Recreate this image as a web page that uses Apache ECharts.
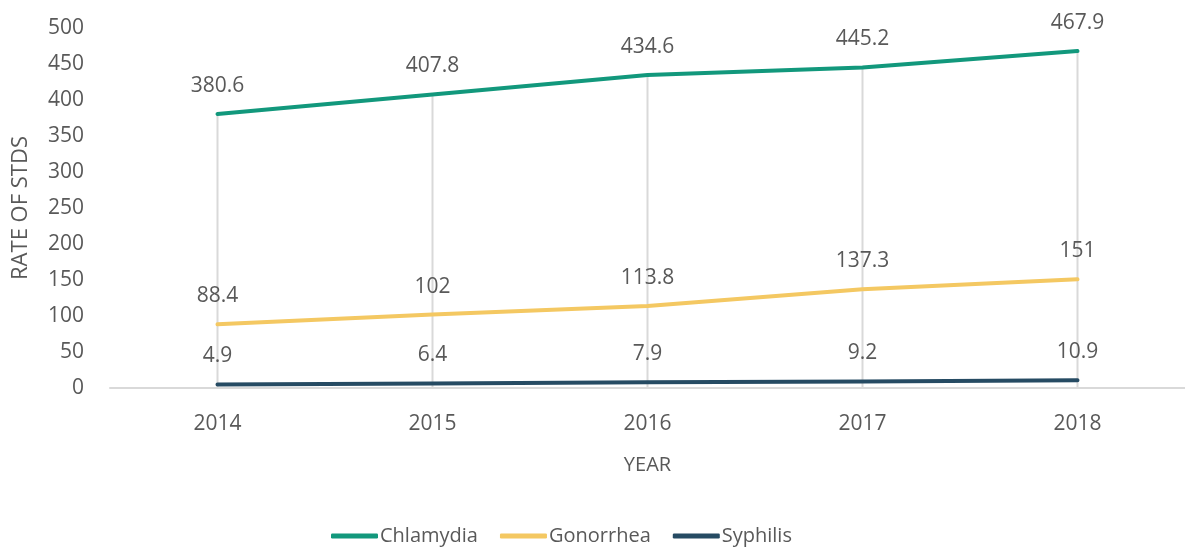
<!DOCTYPE html>
<html><head><meta charset="utf-8">
<script src="https://cdn.jsdelivr.net/npm/echarts@6/dist/echarts.min.js"></script>
<style>html,body{margin:0;padding:0;background:#fff}#c{width:1185px;height:550px}</style>
</head><body><div id="c"></div>
<script>
const years = ['2014','2015','2016','2017','2018'];
const chlamydia = [380.6, 407.8, 434.6, 445.2, 467.9];
const gonorrhea = [88.4, 102, 113.8, 137.3, 151];
const syphilis = [4.9, 6.4, 7.9, 9.2, 10.9];
const yTicks = [0, 50, 100, 150, 200, 250, 300, 350, 400, 450, 500];

const FONT = '"Open Sans", "Noto Sans", sans-serif';
const TXT = '#595959';
function lineSeries(name, data, color) {
  return {
    name, type: 'line', data, symbol: 'circle', symbolSize: 1, showSymbol: true, z: 5,
    lineStyle: { color, width: 4, cap: 'round' },
    itemStyle: { color: 'rgba(0,0,0,0)', borderWidth: 0 },
    label: { show: true, position: 'top', distance: 17, color: TXT, fontSize: 21, fontFamily: FONT },
  };
}
const chart = echarts.init(document.getElementById('c'));
chart.setOption({
  animation: false,
  grid: { left: 110, right: -8, top: 28, bottom: 162 },
  legend: {
    data: [
      { name: 'Chlamydia', itemStyle: { color: '#12987c' } },
      { name: 'Gonorrhea', itemStyle: { color: '#f4c862' } },
      { name: 'Syphilis', itemStyle: { color: '#264b63' } },
    ],
    icon: 'roundRect',
    top: 521, left: 326, itemWidth: 47, itemHeight: 5, itemGap: 22,
    textStyle: { color: TXT, fontSize: 20, fontFamily: FONT, padding: [0, 0, 0, -3] },
  },
  xAxis: {
    type: 'category', data: years, boundaryGap: true,
    name: 'YEAR', nameLocation: 'middle', nameGap: 67,
    nameTextStyle: { color: TXT, fontSize: 20, fontFamily: FONT },
    axisLine: { lineStyle: { color: '#d9d9d9', width: 2 } },
    axisTick: { show: false },
    axisLabel: { color: TXT, fontSize: 21, fontFamily: FONT, margin: 26 },
  },
  yAxis: {
    type: 'value', min: yTicks[0], max: yTicks[yTicks.length - 1], interval: 50,
    name: 'RATE OF STDS', nameLocation: 'middle', nameGap: 78, nameRotate: 90,
    nameTextStyle: { color: TXT, fontSize: 22, fontFamily: FONT },
    axisLine: { show: false }, axisTick: { show: false }, splitLine: { show: false },
    axisLabel: { color: TXT, fontSize: 21, fontFamily: FONT, margin: 26 },
  },
  series: [
    { name: 'drop', type: 'bar', data: chlamydia, barWidth: 2, z: 1,
      itemStyle: { color: '#d9d9d9' }, silent: true, label: { show: false } },
    lineSeries('Chlamydia', chlamydia, '#12987c'),
    lineSeries('Gonorrhea', gonorrhea, '#f4c862'),
    lineSeries('Syphilis', syphilis, '#264b63'),
  ],
});
</script></body></html>
